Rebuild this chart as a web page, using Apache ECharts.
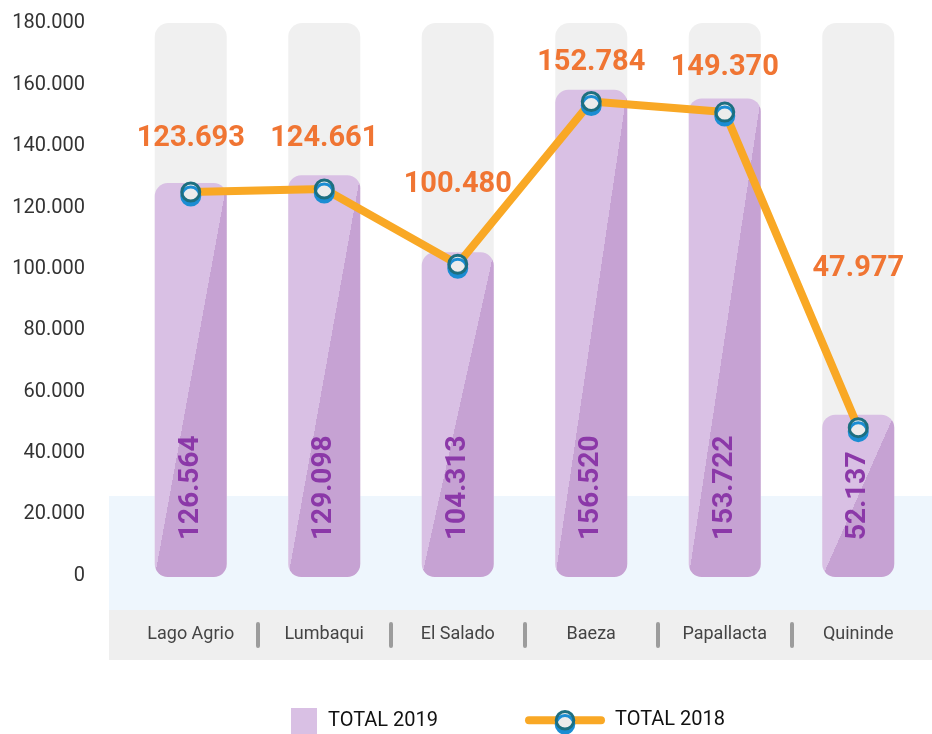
<!DOCTYPE html>
<html>
<head>
<meta charset="utf-8">
<script src="https://cdn.jsdelivr.net/npm/echarts@6/dist/echarts.min.js"></script>
<style>
  html, body { margin: 0; padding: 0; background: #fff; }
  #chart { width: 932px; height: 734px; }
</style>
</head>
<body>
<div id="chart"></div>
<script>
const categories = ['Lago Agrio', 'Lumbaqui', 'El Salado', 'Baeza', 'Papallacta', 'Quininde'];
const total2019 = [126564, 129098, 104313, 156520, 153722, 52137];
const total2018 = [123693, 124661, 100480, 152784, 149370, 47977];
const yTicks = [0, 20000, 40000, 60000, 80000, 100000, 120000, 140000, 160000, 180000];

// how far each orange label sits above its point (px)
const lineLabelLift = [53, 50, 80, 39, 44, 159];

const FONT = "Roboto, 'Liberation Sans', sans-serif";
const LIGHT = '#d9c0e4';
const DARK = '#c6a2d3';

function fmt(v) {
  return String(v).replace(/\B(?=(\d{3})+(?!\d))/g, '.');
}

const chart = echarts.init(document.getElementById('chart'));

const option = {
  animation: false,
  grid: { left: 124, right: 7, top: 23, bottom: 157 },
  graphic: [
    { type: 'rect', z: -10, shape: { x: 109, y: 496, width: 823, height: 114 }, style: { fill: '#eef6fd' } },
    { type: 'rect', z: -10, shape: { x: 109, y: 610, width: 823, height: 50 }, style: { fill: '#efefef' } }
  ],
  xAxis: [
    {
      type: 'category',
      data: categories,
      axisLine: { show: false, onZero: false },
      axisTick: { show: false },
      axisLabel: { margin: 48, fontFamily: FONT, fontSize: 18, color: '#444' }
    },
    {
      // separators between the category names
      type: 'category',
      boundaryGap: false,
      data: ['', '', '', '', '', '', ''],
      position: 'bottom',
      offset: 47,
      axisLine: { show: false, onZero: false },
      axisLabel: { show: false },
      axisTick: {
        show: true,
        length: 22,
        interval: function (i) { return i > 0 && i < 6; },
        lineStyle: { color: '#9c9c9c', width: 4, cap: 'round' }
      }
    }
  ],
  yAxis: [
    {
      // scale of the marks (top of the grey track ~178.000)
      type: 'value',
      min: 0,
      max: 178000,
      axisLine: { show: false },
      axisTick: { show: false },
      splitLine: { show: false },
      axisLabel: { show: false }
    },
    {
      // printed tick labels, sitting slightly apart from the marks as in the original
      type: 'value',
      position: 'left',
      min: -489,
      max: 180163,
      axisLine: { show: false },
      axisTick: { show: false },
      splitLine: { show: false },
      axisLabel: {
        customValues: yTicks,
        margin: 39,
        fontFamily: FONT,
        fontSize: 20,
        color: '#333',
        formatter: function (v) { return fmt(v); }
      }
    }
  ],
  legend: [
    {
      data: ['TOTAL 2019'],
      left: 291, top: 708, padding: 0,
      itemWidth: 26, itemHeight: 26,
      icon: 'rect',
      textStyle: { fontFamily: FONT, fontSize: 20, color: '#111', padding: [0, 0, 0, 6] }
    },
    {
      data: ['TOTAL 2018'],
      left: 525, top: 710, padding: 0,
      itemWidth: 72, itemHeight: 22,
      lineStyle: { color: '#f9a825', width: 8, cap: 'round' },
      itemStyle: {
        color: '#ececec',
        borderColor: '#1d6f80',
        borderWidth: 3,
        shadowColor: '#1b8dd3',
        shadowOffsetY: 4,
        shadowBlur: 0
      },
      textStyle: { fontFamily: FONT, fontSize: 20, color: '#111', padding: [0, 0, 0, 9] }
    }
  ],
  series: [
    {
      name: 'TOTAL 2019',
      type: 'bar',
      barWidth: 72,
      data: total2019,
      itemStyle: { color: LIGHT, borderRadius: 13 },
      showBackground: true,
      backgroundStyle: { color: '#f0f0f0', borderRadius: 14 },
      label: {
        show: true,
        position: 'insideBottom',
        rotate: 90,
        align: 'left',
        verticalAlign: 'middle',
        distance: 37,
        fontFamily: FONT,
        fontSize: 28,
        fontWeight: 'bold',
        color: '#8b38a8',
        formatter: function (p) { return fmt(p.value); }
      }
    },
    {
      name: 'TOTAL 2018',
      type: 'line',
      z: 5,
      data: total2018.map(function (v, i) {
        return { value: v, label: { offset: [0, -lineLabelLift[i]] } };
      }),
      symbol: 'circle',
      symbolSize: 18,
      lineStyle: { color: '#f9a825', width: 8 },
      itemStyle: {
        color: '#ececec',
        borderColor: '#1d6f80',
        borderWidth: 3,
        shadowColor: '#1b8dd3',
        shadowOffsetY: 4,
        shadowBlur: 0
      },
      label: {
        show: true,
        position: 'inside',
        fontFamily: FONT,
        fontSize: 29,
        fontWeight: 'bold',
        color: '#f07533',
        formatter: function (p) { return fmt(p.value); }
      }
    }
  ]
};

chart.setOption(option);

// diagonal two-tone shading on each bar: split along the bar's anti-diagonal
const y0 = chart.convertToPixel({ yAxisIndex: 0 }, 0);
const barData = total2019.map(function (v) {
  const w = 72;
  const h = Math.max(1, y0 - chart.convertToPixel({ yAxisIndex: 0 }, v));
  const s = 0.5;
  const dx = (h / w) * s, dy = (w / h) * s;
  return {
    value: v,
    itemStyle: {
      color: new echarts.graphic.LinearGradient(0.5 - dx, 0.5 - dy, 0.5 + dx, 0.5 + dy, [
        { offset: 0, color: LIGHT },
        { offset: 0.5, color: LIGHT },
        { offset: 0.5, color: DARK },
        { offset: 1, color: DARK }
      ])
    }
  };
});
chart.setOption({ series: [{ name: 'TOTAL 2019', data: barData }] });
</script>
</body>
</html>
